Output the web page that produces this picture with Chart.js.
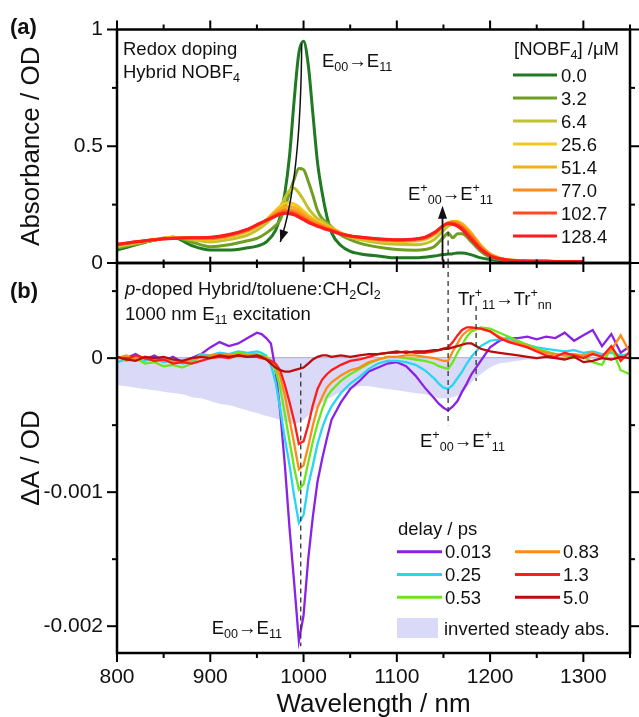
<!DOCTYPE html>
<html><head><meta charset="utf-8">
<script src="https://cdn.jsdelivr.net/npm/chart.js@4.4.1/dist/chart.umd.min.js"></script>
<style>
html,body{margin:0;padding:0;background:#fff;}
#wrap{position:relative;width:639px;height:717px;background:#fff;}
canvas{position:absolute;left:0;top:0;}
</style></head><body>
<div id="wrap"><canvas id="ca" width="639" height="717"></canvas><canvas id="cb" width="639" height="717"></canvas></div>
<script>
const FONT = '"Liberation Sans", Arial, Helvetica, sans-serif';

// ---------- shared x axis ----------
const xTicks = [800,850,900,950,1000,1050,1100,1150,1200,1250,1300,1350];
const xTickLabels = ['800','','900','','1000','','1100','','1200','','1300',''];

// ---------- panel (a): steady-state absorbance ----------
const wlA = [800,820,840,860,880,900,920,940,950,960,970,975,980,985,990,995,1000,1005,1010,1015,1020,1025,1030,1040,1050,1060,1080,1100,1120,1130,1140,1150,1155,1160,1165,1170,1180,1190,1200,1210,1220,1240,1260,1280,1300];
const nobfLabels = ['0.0','3.2','6.4','25.6','51.4','77.0','102.7','128.4'];
const abs00 = [0.055,0.078,0.098,0.110,0.075,0.056,0.056,0.065,0.072,0.090,0.140,0.200,0.300,0.460,0.700,0.900,0.950,0.850,0.640,0.430,0.300,0.200,0.130,0.075,0.050,0.040,0.030,0.022,0.022,0.025,0.030,0.036,0.038,0.040,0.043,0.043,0.035,0.022,0.015,0.011,0.009,0.007,0.006,0.005,0.005];
const abs32 = [0.065,0.080,0.098,0.110,0.090,0.070,0.078,0.095,0.105,0.128,0.160,0.185,0.240,0.300,0.360,0.405,0.400,0.350,0.290,0.225,0.190,0.175,0.155,0.120,0.100,0.085,0.068,0.058,0.055,0.058,0.070,0.110,0.128,0.108,0.125,0.125,0.090,0.050,0.025,0.016,0.011,0.008,0.007,0.006,0.006];
const abs64 = [0.070,0.085,0.100,0.110,0.100,0.090,0.100,0.120,0.140,0.170,0.210,0.240,0.280,0.310,0.320,0.300,0.270,0.235,0.210,0.190,0.180,0.165,0.152,0.128,0.110,0.100,0.087,0.080,0.078,0.083,0.100,0.140,0.158,0.165,0.168,0.160,0.120,0.070,0.035,0.020,0.013,0.009,0.007,0.006,0.006];
const abs256 = [0.075,0.088,0.100,0.110,0.105,0.100,0.112,0.135,0.155,0.185,0.225,0.243,0.255,0.258,0.252,0.240,0.222,0.205,0.190,0.178,0.168,0.158,0.150,0.128,0.115,0.106,0.096,0.092,0.094,0.100,0.120,0.155,0.170,0.178,0.178,0.168,0.128,0.076,0.040,0.022,0.014,0.009,0.007,0.006,0.006];
const abs514 = [0.077,0.089,0.100,0.108,0.106,0.103,0.114,0.138,0.157,0.183,0.218,0.232,0.240,0.242,0.237,0.226,0.212,0.197,0.184,0.173,0.164,0.155,0.148,0.128,0.116,0.108,0.099,0.095,0.097,0.104,0.124,0.158,0.172,0.178,0.176,0.165,0.125,0.074,0.038,0.021,0.013,0.009,0.007,0.006,0.006];
const abs770 = [0.078,0.090,0.100,0.107,0.107,0.106,0.117,0.141,0.160,0.182,0.210,0.222,0.228,0.228,0.223,0.213,0.200,0.187,0.176,0.166,0.158,0.150,0.144,0.126,0.116,0.109,0.101,0.097,0.100,0.107,0.126,0.160,0.172,0.175,0.170,0.158,0.118,0.070,0.036,0.020,0.013,0.009,0.007,0.006,0.006];
const abs1027 = [0.079,0.090,0.100,0.106,0.108,0.108,0.120,0.143,0.162,0.182,0.204,0.213,0.218,0.217,0.212,0.202,0.190,0.179,0.169,0.160,0.153,0.146,0.140,0.125,0.116,0.110,0.102,0.099,0.102,0.109,0.128,0.160,0.170,0.170,0.163,0.150,0.108,0.063,0.032,0.019,0.012,0.008,0.007,0.006,0.006];
const abs1284 = [0.080,0.091,0.100,0.105,0.108,0.110,0.122,0.145,0.164,0.183,0.200,0.208,0.212,0.211,0.206,0.196,0.185,0.174,0.165,0.157,0.150,0.143,0.137,0.124,0.116,0.111,0.104,0.100,0.103,0.110,0.130,0.160,0.168,0.166,0.158,0.143,0.100,0.058,0.030,0.018,0.012,0.008,0.007,0.006,0.006];
const aTicks = [0,0.25,0.5,0.75,1];
const aTickLabels = ['0','','0.5','','1'];

// ---------- panel (b): transient absorption ----------
const wlB = [800,810,820,830,840,850,860,870,880,890,900,910,920,930,940,950,955,960,965,970,975,980,985,990,995,1000,1005,1010,1015,1020,1025,1030,1040,1050,1060,1070,1080,1090,1100,1110,1120,1130,1140,1145,1150,1155,1160,1165,1170,1175,1180,1190,1200,1210,1220,1230,1240,1250,1260,1270,1280,1290,1300,1310,1320,1330,1340,1350];
const delayLabels = ['0.013','0.25','0.53','0.83','1.3','5.0'];
const dA0013 = [0.00001,0,0.00003,-0.00001,0.00002,-0.00002,0.00001,-0.00003,0,0.00003,0.00008,0.00012,0.00009,0.00011,0.00015,0.00019,
  0.00018,0.00015,0.00011,-0.00009,-0.0004,-0.0008,-0.00127,-0.00168,-0.00211,-0.00192,-0.0015,-0.00118,-0.00092,-0.00075,-0.0006,-0.00046,
  -0.00033,-0.00023,-0.00017,-0.0001,-0.00007,-0.00004,-0.00003,-0.00006,-0.00013,-0.00022,-0.0003,
  -0.00034,-0.00037,-0.00039,-0.00036,-0.00032,-0.00025,-0.00019,-0.00012,
  -0.00002,0.00008,0.00013,0.00015,0.00015,0.00016,0.00014,0.00016,0.00015,0.00019,0.00013,0.00017,0.00021,0.00009,0.00018,0.00004,0.00009];
const dA025 = [-0.00003,-0.00001,0.00001,-0.00002,0,-0.00003,-0.00001,-0.00004,-0.00002,0.00003,0.00002,0.00004,0.00003,0.00005,0.00004,0.00005,
  0.00004,0.00002,-0.00005,-0.00018,-0.00038,-0.0006,-0.0008,-0.00103,-0.00123,-0.00117,-0.00095,-0.0008,-0.00064,-0.00052,-0.00043,-0.00036,
  -0.00026,-0.00019,-0.00014,-0.00008,-0.00004,-0.00002,-0.00002,-0.00003,-0.00005,-0.00009,-0.00015,
  -0.00019,-0.00022,-0.00023,-0.0002,-0.00015,-0.0001,-0.00004,0.00001,
  0.00009,0.00013,0.00014,0.00015,0.00012,0.0001,0.00008,0.00007,0.00006,0.00005,0.00006,0.00004,0.00005,0.00003,0.00004,0.00002,0.00003];
const dA053 = [0.00001,-0.00002,0,-0.00004,-0.00003,-0.00006,-0.00005,-0.00007,-0.00004,0.00002,0.00001,0.00003,0.00002,0.00004,0.00003,0.00003,
  0.00002,0.00001,-0.00002,-0.00009,-0.00022,-0.00042,-0.00062,-0.00082,-0.00098,-0.00094,-0.00078,-0.00062,-0.00049,-0.00038,-0.00029,-0.00024,
  -0.00017,-0.00012,-0.00008,-0.00004,-0.00001,0.00001,0.00001,0,-0.00001,-0.00002,-0.00004,
  -0.00006,-0.00007,-0.00008,-0.00003,0.00004,0.0001,0.00016,0.0002,
  0.00023,0.00022,0.00019,0.00016,0.00013,0.0001,0.00007,0.00005,0.00003,0.00002,0,0.00001,-0.00003,-0.00005,0.00008,-0.00009,-0.00012];
const dA083 = [0,0.00002,-0.00001,0.00001,-0.00002,-0.00001,-0.00003,-0.00002,-0.00001,0.00001,0.00002,0.00003,0.00002,0.00003,0.00002,0.00002,
  0.00001,0,-0.00002,-0.00005,-0.00014,-0.00028,-0.00046,-0.00064,-0.00083,-0.0008,-0.00066,-0.0005,-0.00037,-0.00029,-0.00022,-0.00018,
  -0.00013,-0.00009,-0.00007,-0.00003,-0.00001,0.00001,0.00001,0.00002,0.00002,0.00001,0,
  -0.00001,-0.00002,-0.00002,0.00005,0.00011,0.00017,0.0002,0.00022,
  0.00022,0.0002,0.00016,0.00013,0.00011,0.00009,0.00006,0.00004,0.00003,0.00002,0.00003,0.00002,0.00004,0.00001,0.00006,0.00017,0.00004];
const dA13 = [0.00001,-0.00001,0.00002,0,-0.00002,-0.00001,-0.00004,-0.00003,-0.00004,-0.00002,0,0.00001,0,0.00002,0.00001,0.00001,
  0,-0.00001,-0.00002,-0.00004,-0.00009,-0.0002,-0.00033,-0.00047,-0.00064,-0.00062,-0.0005,-0.00035,-0.00023,-0.00016,-0.00012,-0.00009,
  -0.00005,-0.00002,-0.00001,0.00001,0.00003,0.00004,0.00004,0.00005,0.00004,0.00004,0.00005,
  0.00006,0.00007,0.00008,0.00012,0.00017,0.00021,0.00023,0.00023,
  0.00022,0.0002,0.00015,0.00012,0.0001,0.00008,0.00005,0.00002,0.00001,0.00004,0.00002,0,0.00003,0.00001,0.00009,-0.00002,0.00005];
const dA50 = [0.00001,-0.00001,-0.00002,0.00001,0,0.00001,-0.00001,-0.00002,0,0.00001,0,0.00002,0.00001,0.00002,0.00001,0.00002,
  0.00001,-0.00001,-0.00004,-0.00007,-0.00009,-0.0001,-0.0001,-0.00009,-0.00008,-0.00007,-0.00004,-0.00001,0.00001,0.00002,0.00002,0.00001,
  0.00002,0.00001,0.00002,0.00003,0.00003,0.00004,0.00005,0.00004,0.00005,0.00005,0.00006,
  0.00006,0.00007,0.00007,0.00008,0.00009,0.0001,0.00011,0.00011,
  0.00007,0.00005,0.00004,0.00003,0.00002,0.00001,0,0.00001,0,-0.00001,0.00001,-0.00003,-0.00002,0,-0.00001,0.00001,0];
const invSteady = [-0.0002,-0.00021,-0.00022,-0.00023,-0.00024,-0.00025,-0.00026,-0.00027,-0.00029,-0.0003,-0.00032,-0.00034,-0.00035,-0.00037,-0.00039,-0.00041,
  -0.00042,-0.00043,-0.00044,-0.00045,-0.00046,-0.00047,-0.00048,-0.00049,-0.00048,-0.00046,-0.00043,-0.00039,-0.00036,-0.00033,-0.00031,-0.00029,
  -0.00025,-0.00023,-0.00021,-0.00021,-0.00022,-0.00023,-0.00024,-0.00025,-0.00026,-0.00027,-0.00029,
  -0.0003,-0.0003,-0.0003,-0.00029,-0.00028,-0.00026,-0.00022,-0.00018,
  -0.00012,-0.00007,-0.00004,-0.00003,-0.00002,-0.00001,-0.00001,0,0,0,0,0,0,0,0,0,0];
const bTicks = [-0.002,-0.0015,-0.001,-0.0005,0,0.0005];
const bTickLabels = ['-0.002','','-0.001','','0',''];

// ---------- styles ----------
const absSeries = [abs00,abs32,abs64,abs256,abs514,abs770,abs1027,abs1284];
const absColors = ['#1f7a22','#6f9e22','#c2c22a','#f6c81e','#f7ae1c','#ff8a1e','#ff4a22','#ff1c1c'];
const taSeries = [dA0013,dA025,dA053,dA083,dA13,dA50];
const taColors = ['#8a22e6','#26d6f2','#6ae61e','#ff8a16','#ff1c1c','#b80e0e'];
const shadeColor = 'rgba(196,196,244,0.62)';

// ---------- helpers ----------
function seg(ctx,x1,y1,x2,y2){ctx.beginPath();ctx.moveTo(x1,y1);ctx.lineTo(x2,y2);ctx.stroke();}
function rich(ctx,x,y,parts,size,align){
  const small=size*0.68; let w=0;
  const segs=parts.map(([t,m])=>{
    const fs=(m==='sub'||m==='sup')?small:size;
    const f=(m==='i'?'italic ':'')+(m==='b'?'bold ':'')+fs+'px '+FONT;
    ctx.font=f; const sw=ctx.measureText(t).width; w+=sw; return {t,m,f,sw};
  });
  let cx=align==='right'?x-w:align==='center'?x-w/2:x;
  ctx.textAlign='left'; ctx.textBaseline='alphabetic';
  const base=y+size*0.36;
  segs.forEach(s=>{ctx.font=s.f; let dy=0; if(s.m==='sub')dy=size*0.24; if(s.m==='sup')dy=-size*0.42;
    ctx.fillText(s.t,cx,base+dy); cx+=s.sw;});
}
function arrowHead(ctx,x,y,ang,len,half){
  const c=Math.cos(ang),s=Math.sin(ang);
  ctx.beginPath();ctx.moveTo(x,y);
  ctx.lineTo(x-len*c+half*s,y-len*s-half*c);
  ctx.lineTo(x-len*c-half*s,y-len*s+half*c);
  ctx.closePath();ctx.fill();
}
function frameTicks(chart,yT,yL,bottomMode,top){
  const {ctx,chartArea:a}=chart; const xs=chart.scales.x, ys=chart.scales.y;
  ctx.save(); ctx.strokeStyle='#000'; ctx.lineWidth=2;
  xTicks.forEach((v,i)=>{const px=xs.getPixelForValue(v); const L=xTickLabels[i]?9:5;
    if(top) seg(ctx,px,a.top,px,a.top-L);
    if(bottomMode==='out') seg(ctx,px,a.bottom,px,a.bottom+L);
    if(bottomMode==='cross') seg(ctx,px,a.bottom-L*0.7,px,a.bottom+L);
  });
  yT.forEach((v,i)=>{const py=ys.getPixelForValue(v); const L=yL[i]?10:5;
    seg(ctx,a.left,py,a.left-L,py); seg(ctx,a.right,py,a.right+L,py);});
  ctx.lineWidth=2.5; ctx.strokeRect(a.left,a.top,a.right-a.left,a.bottom-a.top);
  ctx.restore();
}
function fixY(w){return s=>{s.width=w;s.paddingTop=0;s.paddingBottom=0;s.paddingLeft=0;s.paddingRight=0;};}
function fixX(h){return s=>{s.height=h;s.paddingLeft=0;s.paddingRight=0;s.paddingTop=0;s.paddingBottom=0;};}

const ANN=18.5;

// ---------- panel (a) ----------
const plugA={id:'plugA',afterDraw(chart){
  const ctx=chart.ctx, xs=chart.scales.x, ys=chart.scales.y;
  frameTicks(chart,aTicks,aTickLabels,'cross',true);
  ctx.save(); ctx.fillStyle='#111'; ctx.strokeStyle='#111';
  rich(ctx,10,26,[['(a)','b']],22,'left');
  rich(ctx,123,48,[['Redox doping','n']],ANN,'left');
  rich(ctx,123,71,[['Hybrid NOBF','n'],['4','sub']],ANN,'left');
  rich(ctx,322,60,[['E','n'],['00','sub'],['\u2192','n'],['E','n'],['11','sub']],ANN,'left');
  rich(ctx,408,193,[['E','n'],['+','sup'],['00','sub'],['\u2192','n'],['E','n'],['+','sup'],['11','sub']],ANN,'left');
  // legend
  rich(ctx,514,48,[['[NOBF','n'],['4','sub'],['] /\u03bcM','n']],ANN,'left');
  chart.data.datasets.forEach((d,i)=>{const y=75+23*i; ctx.strokeStyle=d.borderColor; ctx.lineWidth=3;
    seg(ctx,513,y,557,y); ctx.fillStyle='#111'; rich(ctx,561,y,[[d.label,'n']],ANN,'left');});
  // curved arrow over E11 peak
  ctx.strokeStyle='#111'; ctx.fillStyle='#111'; ctx.lineWidth=1.5;
  const p0={x:xs.getPixelForValue(998),y:ys.getPixelForValue(0.94)};
  const pc={x:xs.getPixelForValue(997),y:ys.getPixelForValue(0.35)};
  const p1={x:xs.getPixelForValue(975),y:ys.getPixelForValue(0.09)};
  ctx.beginPath();ctx.moveTo(p0.x,p0.y);ctx.quadraticCurveTo(pc.x,pc.y,p1.x,p1.y);ctx.stroke();
  arrowHead(ctx,p1.x,p1.y,Math.atan2(p1.y-pc.y,p1.x-pc.x),12,4.5);
  // up arrow at E+ band
  const ux=xs.getPixelForValue(1149);
  const uy0=ys.getPixelForValue(0.01), uy1=ys.getPixelForValue(0.245);
  ctx.lineWidth=1.8; seg(ctx,ux,uy0,ux,uy1+10); arrowHead(ctx,ux,uy1,-Math.PI/2,13,4.5);
  // dashed guide
  ctx.setLineDash([5,4]); ctx.lineWidth=1.3; ctx.strokeStyle='#333';
  const dx=xs.getPixelForValue(1155); seg(ctx,dx,ys.getPixelForValue(0.135),dx,ys.getPixelForValue(0));
  ctx.restore();
}};

new Chart(document.getElementById('ca'),{
  type:'line',
  data:{datasets:absSeries.map((s,i)=>({label:nobfLabels[i],data:wlA.map((x,j)=>({x,y:s[j]})),
    borderColor:absColors[i],borderWidth:3,pointRadius:0,cubicInterpolationMode:'monotone',fill:false,order:absSeries.length-i}))},
  options:{responsive:false,animation:false,events:[],
    layout:{padding:{left:0,top:29.5,right:9,bottom:454}},
    plugins:{legend:{display:false},tooltip:{enabled:false}},
    scales:{
      x:{type:'linear',min:800,max:1350,afterBuildTicks:s=>{s.ticks=xTicks.map(v=>({value:v}));},afterFit:fixX(0),
        ticks:{display:false},grid:{display:false,drawTicks:false},border:{display:false}},
      y:{type:'linear',min:0,max:1,afterBuildTicks:s=>{s.ticks=aTicks.map(v=>({value:v}));},afterFit:fixY(117),
        ticks:{font:{family:FONT,size:21},color:'#111',padding:14,autoSkip:false,callback:(v,i)=>aTickLabels[i]},
        grid:{display:false,drawTicks:false},border:{display:false},
        title:{display:true,text:'Absorbance / OD',font:{family:FONT,size:26},color:'#111',padding:{top:16,bottom:0}}}
    }},
  plugins:[plugA]
});

// ---------- panel (b) ----------
const plugB={id:'plugB',afterDraw(chart){
  const ctx=chart.ctx, xs=chart.scales.x, ys=chart.scales.y, a=chart.chartArea;
  frameTicks(chart,bTicks,bTickLabels,'out',false);
  ctx.save(); ctx.fillStyle='#111';
  rich(ctx,10,290,[['(b)','b']],22,'left');
  rich(ctx,125,288,[['p','i'],['-doped Hybrid/toluene:CH','n'],['2','sub'],['Cl','n'],['2','sub']],ANN,'left');
  rich(ctx,125,313,[['1000 nm E','n'],['11','sub'],[' excitation','n']],ANN,'left');
  rich(ctx,458,298,[['Tr','n'],['+','sup'],['11','sub'],['\u2192','n'],['Tr','n'],['+','sup'],['nn','sub']],ANN,'left');
  rich(ctx,420,440,[['E','n'],['+','sup'],['00','sub'],['\u2192','n'],['E','n'],['+','sup'],['11','sub']],ANN,'left');
  rich(ctx,282,627,[['E','n'],['00','sub'],['\u2192','n'],['E','n'],['11','sub']],ANN,'right');
  // dashed guides
  ctx.setLineDash([5,4]); ctx.lineWidth=1.3; ctx.strokeStyle='#333';
  let dx=xs.getPixelForValue(1155); seg(ctx,dx,a.top,dx,ys.getPixelForValue(-0.0005));
  dx=xs.getPixelForValue(1185); seg(ctx,dx,ys.getPixelForValue(0.00039),dx,ys.getPixelForValue(-0.00017));
  dx=xs.getPixelForValue(997); seg(ctx,dx,ys.getPixelForValue(-0.00004),dx,ys.getPixelForValue(-0.00215));
  ctx.setLineDash([]);
  // legend
  rich(ctx,398,528,[['delay / ps','n']],ANN,'left');
  const ds=chart.data.datasets.filter(d=>d.label!=='inverted steady abs.');
  ds.forEach((d,i)=>{const col=i<3?0:1, row=i%3; const y=551.7+22.8*row;
    const lx=col?515:397; ctx.strokeStyle=d.borderColor; ctx.lineWidth=3; seg(ctx,lx,y,lx+45,y);
    ctx.fillStyle='#111'; rich(ctx,lx+48,y,[[d.label,'n']],ANN,'left');});
  ctx.fillStyle=shadeColor; ctx.fillRect(397,618,41,20);
  ctx.fillStyle='#111'; rich(ctx,444,628,[['inverted steady abs.','n']],ANN,'left');
  ctx.restore();
}};

const bSets=taSeries.map((s,i)=>({label:delayLabels[i],data:wlB.map((x,j)=>({x,y:s[j]})),
  borderColor:taColors[i],borderWidth:2.3,pointRadius:0,tension:0,fill:false,order:taSeries.length-i}));
bSets.push({label:'inverted steady abs.',data:wlB.map((x,j)=>({x,y:invSteady[j]})),
  borderWidth:0,borderColor:'rgba(0,0,0,0)',backgroundColor:shadeColor,pointRadius:0,tension:0.3,fill:'origin',order:20});

new Chart(document.getElementById('cb'),{
  type:'line',
  data:{datasets:bSets},
  options:{responsive:false,animation:false,events:[],
    layout:{padding:{left:0,top:263,right:9,bottom:0}},
    plugins:{legend:{display:false},tooltip:{enabled:false},filler:{propagate:false}},
    scales:{
      x:{type:'linear',min:800,max:1350,afterBuildTicks:s=>{s.ticks=xTicks.map(v=>({value:v}));},afterFit:fixX(64),
        ticks:{font:{family:FONT,size:21},color:'#111',padding:12,autoSkip:false,maxRotation:0,callback:(v,i)=>xTickLabels[i]},
        grid:{display:false,drawTicks:false},border:{display:false},
        title:{display:true,text:'Wavelength / nm',font:{family:FONT,size:26},color:'#111',padding:{top:0,bottom:-3}}},
      y:{type:'linear',min:-0.0022,max:0.00071,afterBuildTicks:s=>{s.ticks=bTicks.map(v=>({value:v}));},afterFit:fixY(117),
        ticks:{font:{family:FONT,size:21},color:'#111',padding:14,autoSkip:false,callback:(v,i)=>bTickLabels[i]},
        grid:{display:true,drawTicks:false,drawOnChartArea:true,lineWidth:1.5,color:c=>(c.tick&&c.tick.value===0)?'rgba(165,165,215,0.8)':'rgba(0,0,0,0)'},
        border:{display:false},
        title:{display:true,text:'\u0394A / OD',font:{family:FONT,size:26},color:'#111',padding:{top:16,bottom:0}}}
    }},
  plugins:[plugB]
});
</script>
</body></html>
